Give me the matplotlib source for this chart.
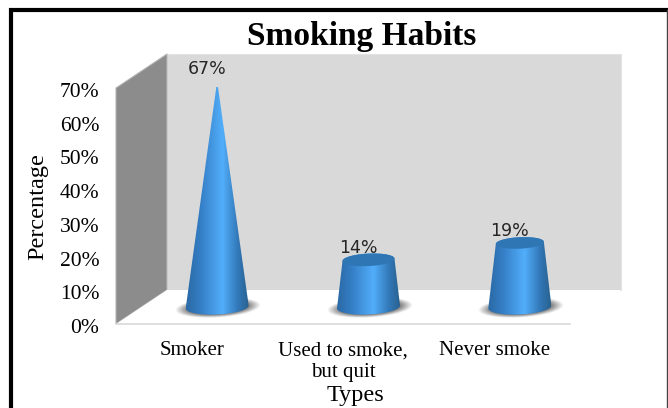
import numpy as np
import matplotlib
matplotlib.use("Agg")
import matplotlib.pyplot as plt
from matplotlib.colors import LinearSegmentedColormap
from matplotlib.lines import Line2D
from matplotlib.patches import Polygon
from matplotlib.transforms import ScaledTranslation

categories = ["Smoker", "Used to smoke,\nbut quit", "Never smoke"]
percentages = [67, 14, 19]
y_ticks = [0, 10, 20, 30, 40, 50, 60, 70]

W, H = 668, 408
plt.rcParams["font.family"] = ["Liberation Serif", "DejaVu Serif"]

fig = plt.figure(figsize=(W / 100, H / 100), dpi=100, facecolor="white")
ax = fig.add_axes([116 / W, (H - 324) / H, 454 / W, 236 / H])
ax.set_xlim(-0.5, 2.5)
ax.set_ylim(0, 70)
ax.patch.set_alpha(0)

# pixel sizes of one data unit
px_x = 454 / 3
px_y = 236 / 70
depth_x = 51 / px_x
depth_y = 34 / px_y

# 3d box behind the bars
x0, x1 = -0.5, 2.5
y0, y1 = 0, 70
ax.add_patch(Polygon([(x0 + depth_x, y0 + depth_y), (x1 + depth_x, y0 + depth_y),
                      (x1 + depth_x, y1 + depth_y), (x0 + depth_x, y1 + depth_y)],
                     fc="#d9d9d9", ec="#e4e4e4", lw=0.8, clip_on=False, zorder=1))
ax.add_patch(Polygon([(x0, y0), (x0 + depth_x, y0 + depth_y),
                      (x0 + depth_x, y1 + depth_y), (x0, y1)],
                     fc="#8c8c8c", ec="#b5b5b5", lw=0.8, clip_on=False, zorder=1))
ax.add_patch(Polygon([(x0, y0), (x1, y0), (x1 + depth_x, y0 + depth_y), (x0 + depth_x, y0 + depth_y)],
                     fc="white", ec="none", clip_on=False, zorder=1))

blue_cmap = LinearSegmentedColormap.from_list(
    "cone", [(0, "#2a69a4"), (0.25, "#3680c8"), (0.58, "#52aefa"), (0.82, "#3379ba"), (1, "#28618f")])


def ellipse_points(cx, cy, a_px, b_px, t):
    # slightly tilted ellipse, sizes given in pixels
    dx = a_px * np.cos(t)
    dy = b_px * np.sin(t) + 0.045 * dx
    return np.column_stack([cx + dx / px_x, cy + dy / px_y])


def draw_shadow(cx, cy):
    xs = np.linspace(cx - 50 / px_x, cx + 50 / px_x, 120)
    ys = np.linspace(cy - 14 / px_y, cy + 14 / px_y, 50)
    xx, yy = np.meshgrid(xs, ys)
    # soft blob that sinks a little towards the left, like the bar's base
    dx_px = (xx - cx) * px_x - 1
    dy_px = (yy - cy) * px_y + 0.5 - 0.06 * dx_px
    r = np.sqrt((dx_px / 36) ** 2 + (dy_px / 8.5) ** 2)
    img = np.zeros(xx.shape + (4,))
    img[..., :3] = 0.25
    img[..., 3] = 0.75 * np.clip(1.2 - r, 0, 0.4) / 0.4
    ax.imshow(img, extent=[xs[0], xs[-1], ys[0], ys[-1]], origin="lower",
              aspect="auto", zorder=2, clip_on=False)


def draw_cone(cx, value, base_r=31.5, taper_to=80):
    base_y = depth_y / 2
    top_y = base_y + value
    # the tallest bar runs to a point, shorter ones are cut off on the way up
    top_r = 0 if value == max(percentages) else base_r * (1 - value / taper_to)
    draw_shadow(cx, base_y)

    lower = ellipse_points(cx, base_y, base_r, 7.5, np.linspace(np.pi, 2 * np.pi, 50))
    upper = ellipse_points(cx, top_y, top_r, top_r * 0.24, np.linspace(0, np.pi, 30))
    outline = np.vstack([lower, upper])
    clip = Polygon(outline, closed=True, transform=ax.transData, fc="none", ec="none")
    ax.add_patch(clip)

    grad = np.linspace(0, 1, 256).reshape(1, -1)
    left, right = cx - base_r / px_x, cx + base_r / px_x
    im = ax.imshow(grad, cmap=blue_cmap, extent=[left, right, base_y - 12 / px_y, top_y + 12 / px_y],
                   aspect="auto", zorder=3)
    # imshow clips to the axes box by default, the tip has to stick out of it
    im.set_clip_box(None)
    im.set_clip_path(clip)

    if top_r > 0:
        cap = ellipse_points(cx, top_y, top_r, top_r * 0.24, np.linspace(0, 2 * np.pi, 60))
        ax.add_patch(Polygon(cap, fc="#2f76b5", ec="none", zorder=4, clip_on=False))

    ax.annotate(f"{value}%", xy=(cx, top_y), xytext=(-10, 12), textcoords="offset pixels",
                ha="center", va="center", fontsize=12.5, family="DejaVu Sans",
                color="#262626", zorder=5, annotation_clip=False)


for i, v in enumerate(percentages):
    draw_cone(i + depth_x / 2, v)

ax.set_xlim(-0.5, 2.5)
ax.set_ylim(0, 70)

ax.set_xticks(range(len(categories)))
ax.set_xticklabels(categories, fontsize=15, linespacing=1.2)
ax.set_yticks(y_ticks)
ax.set_yticklabels([f"{t}%" for t in y_ticks], fontsize=15.5)
ax.tick_params(axis="both", length=0)
ax.tick_params(axis="x", pad=12.5)
ax.tick_params(axis="y", pad=12)

# nudge the percent labels down a little
nudge = ScaledTranslation(0, -2 / 100, fig.dpi_scale_trans)
for lab in ax.get_yticklabels():
    lab.set_transform(lab.get_transform() + nudge)

for side in ["top", "left", "right"]:
    ax.spines[side].set_visible(False)
ax.spines["bottom"].set_color("#d9d9d9")
ax.spines["bottom"].set_linewidth(1.2)

fig.text(362 / W, 1 - 37 / H, "Smoking Habits", ha="center", va="center",
         fontsize=24, fontweight="bold", color="black")
fig.text(355 / W, 1 - 396 / H, "Types", ha="center", va="center", fontsize=17.5)
fig.text(38 / W, 1 - 207 / H, "Percentage", ha="center", va="center", rotation=90, fontsize=17.5)

# frame around the chart, open at the bottom
fig.add_artist(Line2D([11 / W, 11 / W], [0, 1 - 8 / H], color="black", lw=3, solid_capstyle="butt"))
fig.add_artist(Line2D([9 / W, 1], [1 - 10 / H, 1 - 10 / H], color="black", lw=3, solid_capstyle="butt"))
fig.add_artist(Line2D([667 / W, 667 / W], [0, 1 - 10 / H], color="#444444", lw=1))

fig.savefig("out.png", dpi=100)
